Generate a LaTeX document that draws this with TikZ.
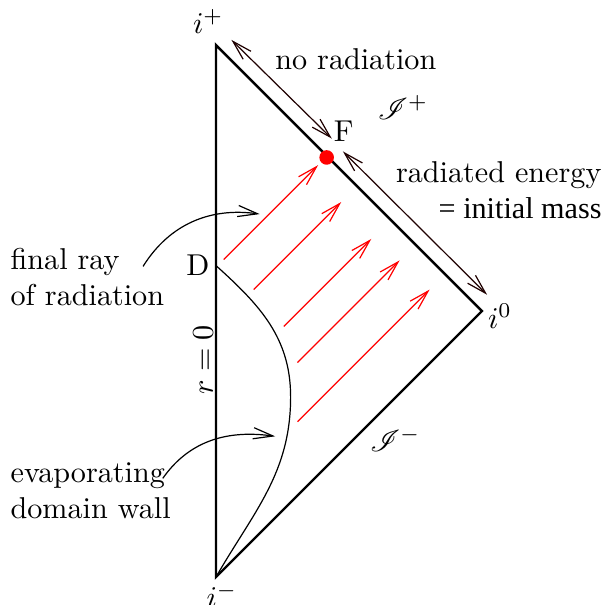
\documentclass[tikz,border=0pt]{standalone}
\usepackage{fontspec}
\usepackage{mathrsfs}
\usetikzlibrary{arrows.meta}
\newfontfamily\timesfont{Liberation Serif}

\tikzset{
  barb/.style={-{Straight Barb[length=2.3mm,width=1.3mm]}},
  dbarb/.style={{Straight Barb[length=2.3mm,width=1.3mm]}-{Straight Barb[length=2.3mm,width=1.3mm]}},
  txt/.style={inner sep=0pt}
}

\begin{document}
\begin{tikzpicture}
\useasboundingbox (-2.517,-3.415) rectangle (4.534,3.625);

% Ecken des Diagramms
\coordinate (iplus) at (0,3.1);
\coordinate (iminus) at (0,-3.1);
\coordinate (izero) at (3.1,0);
\coordinate (F) at (1.29,1.79);
\coordinate (D) at (0,0.53);

% Rand
\draw[thick] (iminus) -- (iplus) -- (izero) -- cycle;

% Domänenwand
\draw (D) to[out=-42,in=90] (0.87,-1.0) to[out=-90,in=60] (iminus);

% Strahlung (rote Pfeile)
\foreach \sx/\sy/\len in {0.09/0.60/1.10, 0.44/0.25/1.02, 0.79/-0.18/1.02, 0.95/-0.60/1.19, 0.95/-1.29/1.54}
    \draw[red,barb] (\sx,\sy) -- ++(\len,\len);

\fill[red] (F) circle (0.085);

% Pfeile entlang Scri+
\coordinate (nrA) at (0.18,3.16);
\coordinate (nrB) at (1.35,2.01);
\coordinate (reA) at (1.48,1.86);
\coordinate (reB) at (3.16,0.19);
\draw[red!12!black,dbarb] (nrA) -- (nrB);
\draw[red!12!black,dbarb] (reA) -- (reB);

% Beschriftungen
\node[txt] (lplus) at (-0.09,3.37) {$i^+$};
\node[txt] (lminus) at (0.07,-3.31) {$i^-$};
\node[txt] (lzero) at (3.31,-0.06) {$i^0$};
\node[txt] (lF) at (1.49,2.09) {F};
\node[txt] (lD) at (-0.21,0.54) {D};
\node[txt] (scriplus) at (2.18,2.37) {$\mathscr{I}^+$};
\node[txt] (scriminus) at (2.09,-1.50) {$\mathscr{I}^-$};
\node[txt,rotate=90] (rzero) at (-0.15,-0.57) {$r=0$};
\node[txt] (norad) at (1.63,2.93) {no radiation};
\node[txt,anchor=east,align=right] (radE) at (4.50,1.41) {radiated energy\\ {\timesfont = initial mass}};
\node[txt,anchor=west,align=left] (finalray) at (-2.40,0.40) {final ray\\ of radiation};
\node[txt,anchor=west,align=left] (evapwall) at (-2.40,-2.09) {evaporating\\ domain wall};

% Hinweispfeile
\coordinate (rayfrom) at (-0.85,0.52);
\coordinate (rayto) at (0.51,1.13);
\coordinate (wallfrom) at (-0.62,-1.95);
\coordinate (wallto) at (0.69,-1.46);
\draw[barb] (rayfrom) to[out=58,in=172] (rayto);
\draw[barb] (wallfrom) to[out=55,in=172] (wallto);
\end{tikzpicture}
\end{document}
